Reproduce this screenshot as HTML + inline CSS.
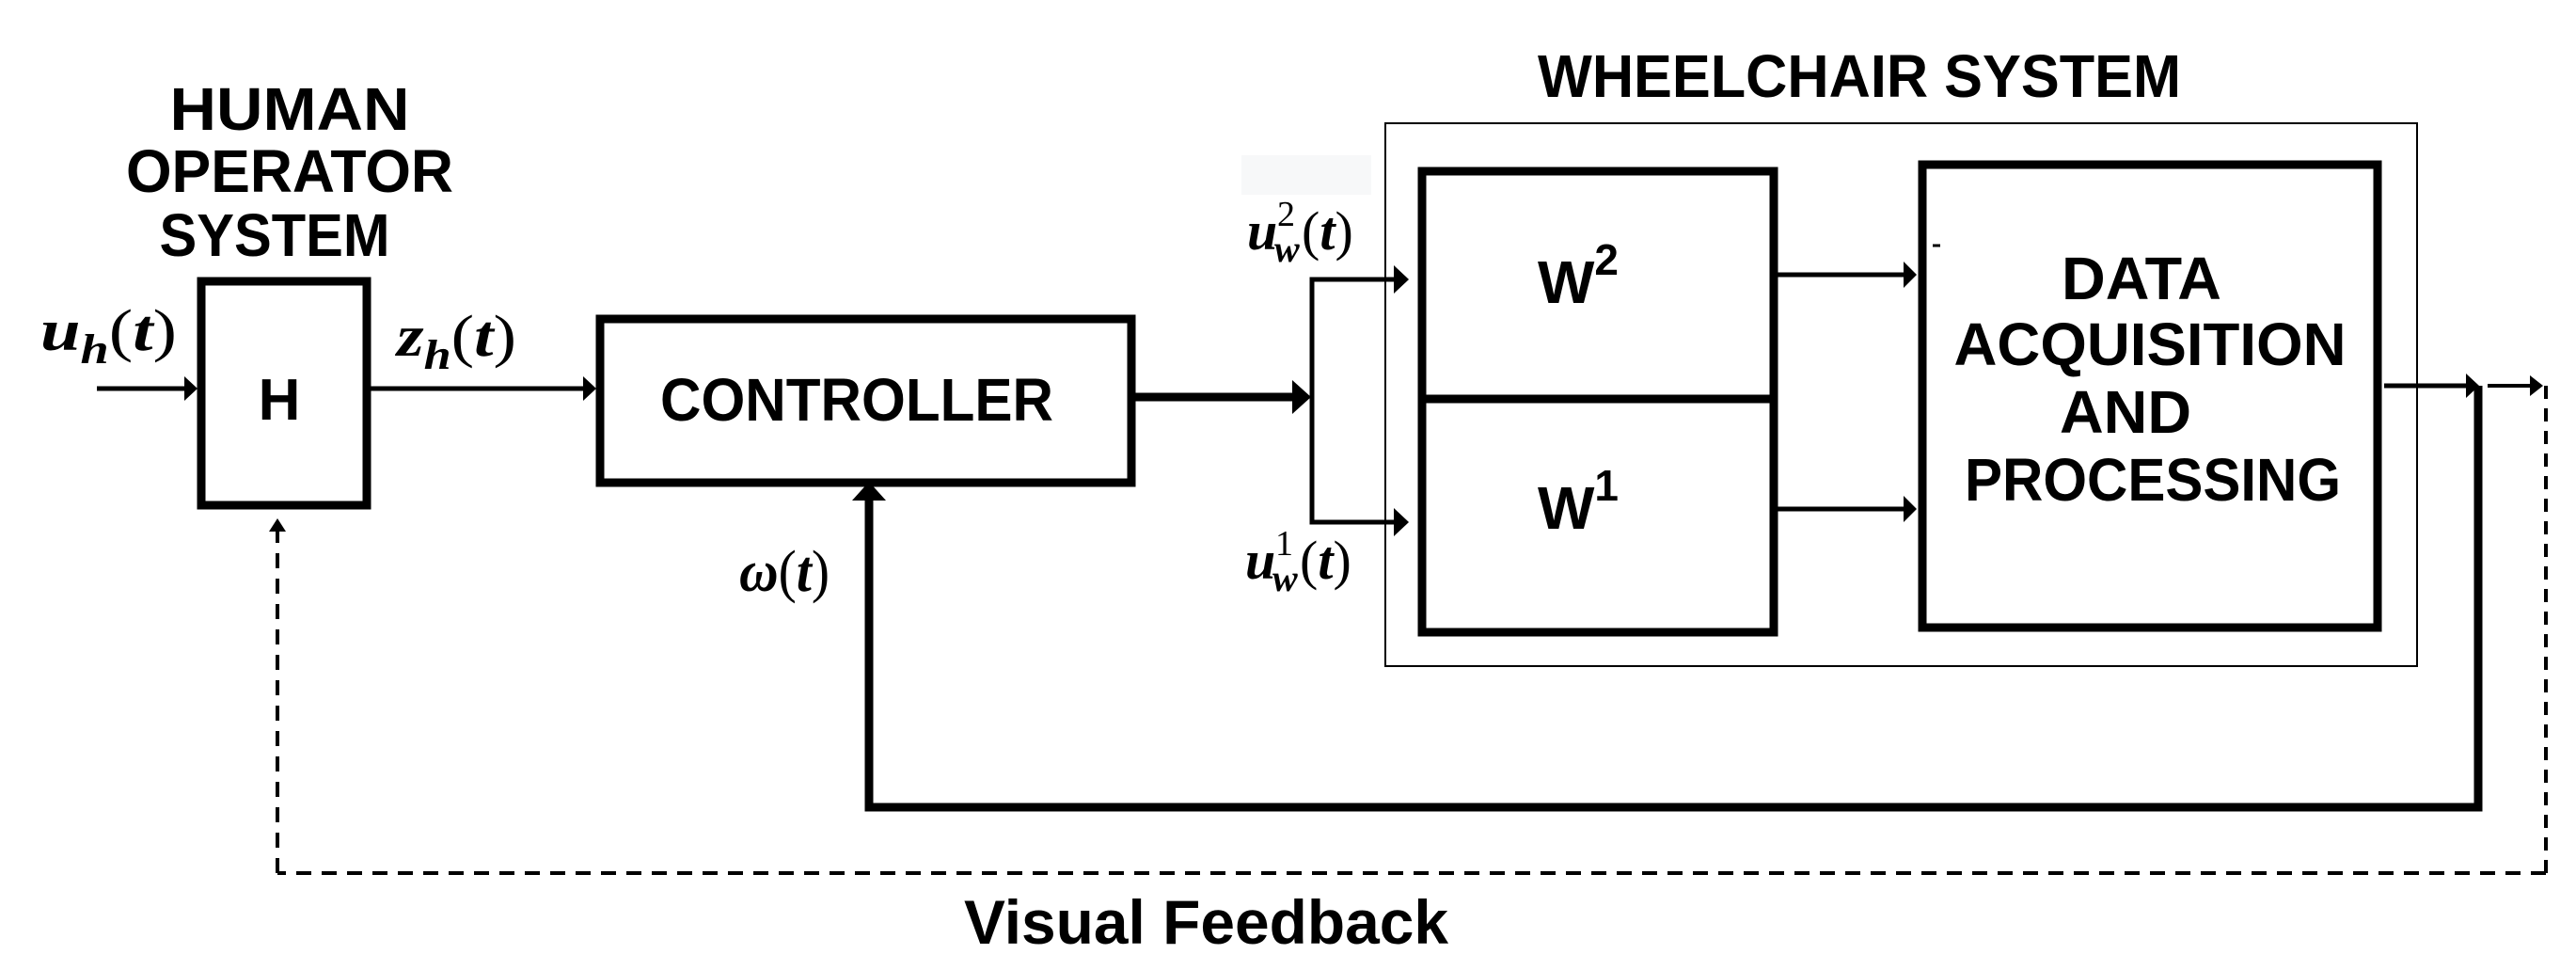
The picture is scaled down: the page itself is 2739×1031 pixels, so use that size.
<!DOCTYPE html>
<html><head><meta charset="utf-8"><style>
html,body{margin:0;padding:0;background:#fff;}
svg{display:block;}
.t{font-family:"Liberation Sans",sans-serif;font-weight:bold;fill:#000;}
.m{font-family:"Liberation Serif",serif;font-weight:bold;font-style:italic;fill:#000;}
.p{font-family:"Liberation Serif",serif;font-weight:normal;font-style:normal;fill:#000;}
</style></head><body>
<svg width="2739" height="1031" viewBox="0 0 2739 1031" xmlns="http://www.w3.org/2000/svg">
<rect width="2739" height="1031" fill="#fff"/>
<rect x="1320" y="165" width="138" height="42" fill="#f7f8f9"/>
<!-- titles -->
<text class="t" x="308" y="138" font-size="64" text-anchor="middle" textLength="255" lengthAdjust="spacingAndGlyphs">HUMAN</text>
<text class="t" x="308" y="204" font-size="64" text-anchor="middle" textLength="348" lengthAdjust="spacingAndGlyphs">OPERATOR</text>
<text class="t" x="292" y="272" font-size="64" text-anchor="middle" textLength="245" lengthAdjust="spacingAndGlyphs">SYSTEM</text>
<text class="t" x="1977" y="103" font-size="64" text-anchor="middle" textLength="684" lengthAdjust="spacingAndGlyphs">WHEELCHAIR SYSTEM</text>
<text class="t" x="1025" y="1003" font-size="66" textLength="515" lengthAdjust="spacingAndGlyphs">Visual Feedback</text>

<!-- H box -->
<rect x="214" y="299" width="176" height="238" fill="none" stroke="#000" stroke-width="9"/>
<text class="t" x="297" y="446" font-size="62" text-anchor="middle">H</text>
<line x1="103" y1="413" x2="200" y2="413" stroke="#000" stroke-width="5"/>
<polygon points="210,413 196,400 196,426" fill="#000"/>
<text class="m" x="43" y="372" font-size="62" textLength="145" lengthAdjust="spacingAndGlyphs">u<tspan font-size="44" dy="14">h</tspan><tspan class="p" dy="-14">(</tspan>t<tspan class="p">)</tspan></text>
<text class="m" x="422" y="378" font-size="62" textLength="127" lengthAdjust="spacingAndGlyphs">z<tspan font-size="44" dy="14">h</tspan><tspan class="p" dy="-14">(</tspan>t<tspan class="p">)</tspan></text>
<line x1="390" y1="413" x2="622" y2="413" stroke="#000" stroke-width="5"/>
<polygon points="634,413 620,400 620,426" fill="#000"/>

<!-- controller -->
<rect x="638" y="339" width="565" height="174" fill="none" stroke="#000" stroke-width="9"/>
<text class="t" x="911" y="447" font-size="64" text-anchor="middle" textLength="418" lengthAdjust="spacingAndGlyphs">CONTROLLER</text>
<line x1="1203" y1="422" x2="1378" y2="422" stroke="#000" stroke-width="9"/>
<polygon points="1394,422 1374,404 1374,440" fill="#000"/>

<!-- junction -->
<polyline points="1482,297 1395,297 1395,555 1482,555" fill="none" stroke="#000" stroke-width="5"/>
<polygon points="1498,297 1482,282 1482,312" fill="#000"/>
<polygon points="1498,555 1482,540 1482,570" fill="#000"/>
<text class="m" x="1326" y="265" font-size="58">u</text>
<text class="m" x="1355" y="278" font-size="40">w</text>
<text class="p" x="1358" y="240" font-size="38">2</text>
<text class="m" x="1384" y="265" font-size="58"><tspan class="p">(</tspan>t<tspan class="p">)</tspan></text>
<text class="m" x="1324" y="615" font-size="58">u</text>
<text class="m" x="1353" y="628" font-size="40">w</text>
<text class="p" x="1356" y="590" font-size="38">1</text>
<text class="m" x="1382" y="615" font-size="58"><tspan class="p">(</tspan>t<tspan class="p">)</tspan></text>

<!-- wheelchair outer -->
<rect x="1473" y="131" width="1097" height="577" fill="none" stroke="#000" stroke-width="2"/>
<rect x="1512" y="182" width="374" height="490" fill="none" stroke="#000" stroke-width="9"/>
<line x1="1512" y1="424" x2="1886" y2="424" stroke="#000" stroke-width="9"/>
<text class="t" x="1678" y="322" font-size="64" text-anchor="middle">W<tspan font-size="46" dy="-30">2</tspan></text>
<text class="t" x="1678" y="562" font-size="64" text-anchor="middle">W<tspan font-size="46" dy="-30">1</tspan></text>
<line x1="1886" y1="292" x2="2026" y2="292" stroke="#000" stroke-width="5"/>
<polygon points="2038,292 2024,278 2024,306" fill="#000"/>
<line x1="1886" y1="541" x2="2026" y2="541" stroke="#000" stroke-width="5"/>
<polygon points="2038,541 2024,527 2024,555" fill="#000"/>

<!-- DAQ -->
<rect x="2044" y="175" width="484" height="492" fill="none" stroke="#000" stroke-width="9"/>
<line x1="2055" y1="261" x2="2063" y2="261" stroke="#000" stroke-width="3"/>
<text class="t" x="2277" y="318" font-size="64" text-anchor="middle" textLength="170" lengthAdjust="spacingAndGlyphs">DATA</text>
<text class="t" x="2286" y="388" font-size="64" text-anchor="middle" textLength="417" lengthAdjust="spacingAndGlyphs">ACQUISITION</text>
<text class="t" x="2260" y="460" font-size="64" text-anchor="middle" textLength="140" lengthAdjust="spacingAndGlyphs">AND</text>
<text class="t" x="2289" y="532" font-size="64" text-anchor="middle" textLength="400" lengthAdjust="spacingAndGlyphs">PROCESSING</text>

<!-- output -->
<line x1="2535" y1="410" x2="2624" y2="410" stroke="#000" stroke-width="5"/>
<polygon points="2636,410 2622,397 2622,423" fill="#000"/>
<polyline points="2635,410 2635,858 924,858 924,530" fill="none" stroke="#000" stroke-width="9"/>
<polygon points="924,512 906,532 942,532" fill="#000"/>
<text class="m" x="786" y="628" font-size="62" textLength="96" lengthAdjust="spacingAndGlyphs">ω<tspan class="p">(</tspan>t<tspan class="p">)</tspan></text>
<line x1="2645" y1="410" x2="2692" y2="410" stroke="#000" stroke-width="4"/>
<polygon points="2704,410 2690,399 2690,421" fill="#000"/>
<line x1="2707" y1="410" x2="2707" y2="928" stroke="#000" stroke-width="4" stroke-dasharray="14,10"/>
<line x1="2707" y1="928" x2="295" y2="928" stroke="#000" stroke-width="4" stroke-dasharray="16,11"/>
<line x1="295" y1="928" x2="295" y2="565" stroke="#000" stroke-width="4" stroke-dasharray="16,11"/>
<polygon points="295,551 286,565 304,565" fill="#000"/>
</svg>
</body></html>
